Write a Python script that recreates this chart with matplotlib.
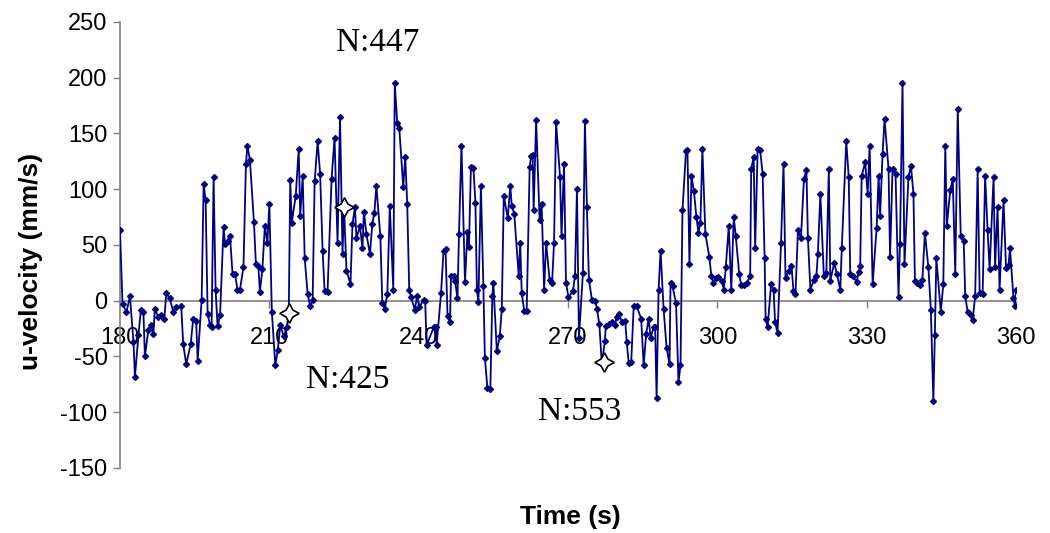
import matplotlib
matplotlib.use("Agg")
import matplotlib.pyplot as plt

plt.rcParams["axes.unicode_minus"] = False

# time (s) and u-velocity (mm/s)
time_s = [
    180.0, 180.5, 181.3, 182.0, 182.7, 183.0, 183.7, 184.2, 184.7, 185.0,
    185.7, 186.2, 186.7, 187.0, 187.7, 188.3, 188.9, 189.3, 190.0, 190.7,
    191.3, 192.3, 192.7, 193.3, 194.2, 194.7,
    195.3, 195.6, 196.4, 196.8, 197.2, 197.6, 198.1, 198.4, 198.8, 199.2,
    199.6, 200.1, 200.8, 201.1, 201.6, 202.1, 202.6, 203.1, 203.6, 204.1,
    204.8, 205.3, 205.6, 206.1, 206.9, 207.3, 207.8, 208.1, 208.6, 209.1,
    209.6, 210.0,
    210.5, 211.2, 211.7, 212.2, 212.9, 213.5, 213.9, 214.2, 214.5, 215.3,
    215.9, 216.2, 216.7, 217.1, 217.7, 218.2, 218.7, 219.1, 219.7, 220.2,
    220.7, 221.1, 221.7, 222.5, 223.1, 223.7, 224.2, 224.7, 225.0,
    225.5, 226.3, 226.7, 227.2, 227.5, 228.2, 228.7, 229.0, 229.5, 230.2,
    230.7, 231.1, 231.5, 232.3, 232.7, 233.2, 233.7, 234.2, 234.9, 235.2,
    235.7, 236.1, 236.9, 237.3, 237.7, 238.1, 238.5, 239.2, 239.7,
    240.1, 241.0, 241.3, 241.6, 243.0, 243.4, 243.6, 244.5, 245.0, 245.4,
    245.8, 246.3, 246.5, 247.0, 247.3, 247.8, 248.1, 248.6, 249.3, 249.8,
    250.1, 250.5, 251.0, 251.4, 251.7, 252.0, 252.5, 253.0, 253.3, 253.8,
    254.4, 254.8, 255.0,
    255.7, 256.3, 256.7, 257.1, 257.9, 258.4, 258.7, 259.2, 260.1, 260.4,
    260.7, 261.2, 261.7, 262.3, 262.6, 262.9, 263.1, 263.6, 264.3, 264.7,
    265.2, 265.6, 266.3, 266.8, 267.2, 267.6, 268.4, 268.7, 269.2, 269.6,
    270.1,
    271.0, 271.4, 271.8, 272.2, 273.0, 273.4, 273.8, 274.2, 274.8, 275.5,
    275.8, 276.3, 276.8, 277.4, 277.6, 278.2, 278.8, 279.4, 279.8, 280.3,
    280.8, 281.5, 281.8, 282.2, 282.7, 283.2, 283.8, 284.7, 285.2,
    285.7, 286.2, 286.6, 287.2, 287.5, 287.8, 288.2, 288.6, 289.2, 289.8,
    290.4, 290.6, 291.0, 291.7, 292.2, 292.6, 293.0, 293.7, 294.0, 294.4,
    294.8, 295.3, 295.8, 296.2, 296.6, 297.0, 297.6, 298.4, 298.8, 299.2,
    299.7, 300.2,
    300.9, 301.3, 301.7, 302.3, 302.8, 303.3, 303.7, 304.4, 304.8, 305.3,
    305.9, 306.6, 306.8, 307.3, 307.6, 308.1, 308.6, 309.1, 309.5, 309.7,
    310.1, 310.8, 311.3, 311.6, 312.1, 312.8, 313.3, 313.7, 314.3, 314.9,
    315.3,
    315.7, 316.2, 316.8, 317.4, 317.9, 318.2, 318.7, 319.4, 319.9, 320.2,
    320.7, 321.4, 321.9, 322.4, 322.7, 323.5, 324.0, 324.7, 325.0, 325.9,
    326.4, 326.7, 327.2, 328.0, 328.4, 328.7, 329.0, 329.7, 330.2, 330.6,
    331.2, 332.0, 332.4, 332.7, 333.2, 333.6, 334.4, 334.7, 335.2, 335.8,
    336.4, 336.7, 337.2, 337.6, 338.4, 338.9, 339.4, 339.7, 340.2, 340.7,
    341.2, 341.7, 342.4, 342.9, 343.4, 343.7, 344.0, 344.9, 345.4,
    345.8, 346.1, 346.8, 347.3, 347.8, 348.3, 348.9, 349.5, 349.8, 350.3,
    350.9, 351.3, 351.8, 352.3, 352.7, 353.3, 353.8, 354.3, 354.7, 355.5,
    355.8, 356.3, 356.7, 357.5, 358.0, 358.5, 358.8, 359.5, 359.8, 360.0,
]
u_vel = [
    63, -3, -10, 4, -37, -68, -31, -8, -10, -50,
    -26, -22, -30, -7, -15, -13, -16, 7, 2, -10,
    -6, -5, -39, -57, -39, -16,
    -18, -54, 1, 105, 90, -12, -22, -24, 111, 10,
    -23, -13, 66, 51, 54, 58, 24, 24, 10, 10,
    30, 123, 139, 126, 71, 33, 31, 8, 28, 67,
    52, 87,
    -10, -58, -44, -22, -32, -24, -11, 108, 70, 94,
    136, 76, 112, 38, 6, -5, 1, 107, 143, 114,
    45, 9, 8, 109, 146, 52, 165, 42, 84,
    27, 15, 69, 84, 56, 67, 47, 80, 60, 42,
    69, 79, 103, 58, -2, -7, 6, 85, 10, 195,
    159, 155, 102, 129, 87, 10, 3, -8, 4,
    -6, 1, 0, -40, -24, -24, -40, 7, 45, 46,
    -14, -19, 22, 22, 18, 2, 60, 139, 17, 62,
    48, 120, 119, 88, 10, -1, 103, 13, -51, -78,
    -79, 4, 16,
    -45, -32, -7, 94, 74, 103, 85, 78, 22, 52,
    7, -9, -9, 120, 130, 131, 81, 162, 72, 87,
    10, 52, 19, 16, 52, 160, 111, 58, 123, 16,
    3,
    9, 22, 100, -33, 25, 161, 84, 19, 1, 0,
    -7, -21, -57, -36, -23, -21, -19, -22, -15, -12,
    -19, -18, -37, -56, -55, -5, -5, -16, -58,
    -30, -16, -33, -24, -24, -87, 10, 45, -7, -42,
    -57, 16, 13, -2, -73, -58, 81, 134, 135, 33,
    112, 98, 75, 61, 70, 136, 60, 39, 22, 16,
    20, 21,
    18, 10, 30, 67, 10, 75, 58, 24, 14, 14,
    16, 22, 118, 129, 47, 136, 135, 114, 38, -16,
    -24, 15, 10, -19, -29, 52, 123, 20, 27, 31,
    9,
    6, 63, 56, 109, 117, 56, 10, 19, 22, 42,
    96, 22, 25, 118, 18, 34, 24, 10, 47, 143,
    111, 24, 22, 17, 26, 31, 112, 124, 96, 139,
    15, 65, 112, 76, 132, 163, 118, 39, 118, 114,
    3, 51, 195, 33, 111, 121, 96, 18, 16, 14,
    19, 61, 30, -8, -90, -31, 38, -10, 15,
    139, 67, 99, 109, 24, 172, 58, 54, 4, -10,
    -13, -17, 4, 118, 7, 6, 112, 63, 28, 111,
    30, 84, 10, 90, 29, 32, 47, 2, -5, 10,
]
assert len(time_s) == len(u_vel)

# marked samples
mark_labels = ["N:425", "N:447", "N:553"]
mark_t = [213.9, 225.0, 277.3]
mark_u = [-11, 84, -55]

x_ticks = [180, 210, 240, 270, 300, 330, 360]
y_ticks = [-150, -100, -50, 0, 50, 100, 150, 200, 250]

fig = plt.figure(figsize=(10.5, 5.33), dpi=100)
ax = fig.add_axes([0.1143, 0.122, 0.8533, 0.8368])

ax.plot(time_s, u_vel, color="#000080", lw=1.3, marker="D", ms=3,
        mfc="#000080", mec="#000080", zorder=3)
ax.plot(mark_t, mark_u, ls="none", marker=(4, 1, 0), ms=14,
        mfc="white", mec="black", mew=1.2, zorder=4)

# label positions (data units) near each star
text_pos = [(225.8, -71), (231.8, 231), (272.4, -100)]
for lab, (tx, ty) in zip(mark_labels, text_pos):
    ax.text(tx, ty, lab, ha="center", va="center", fontsize=24,
            family="Liberation Serif")

ax.set_xlim(180, 360)
ax.set_ylim(-150, 250)
ax.set_xticks(x_ticks)
ax.set_yticks(y_ticks)

ax.spines["top"].set_visible(False)
ax.spines["right"].set_visible(False)
ax.spines["bottom"].set_position(("data", 0))
for s in ("left", "bottom"):
    ax.spines[s].set_color("#808080")
    ax.spines[s].set_linewidth(1.2)

ax.tick_params(axis="x", direction="out", length=5, width=1, color="#808080",
               pad=14, labelsize=17)
ax.tick_params(axis="y", direction="out", length=5, width=1, color="#808080",
               pad=4, labelsize=17)
for lab in ax.get_xticklabels() + ax.get_yticklabels():
    lab.set_family("Liberation Sans")

fig.text(0.543, 0.03, "Time (s)", ha="center", va="center", fontsize=19,
         fontweight="bold", family="Liberation Sans")
fig.text(0.03, 0.51, "u-velocity (mm/s)", ha="center", va="center",
         rotation=90, fontsize=19, fontweight="bold", family="Liberation Sans")

fig.savefig("out.png", dpi=100)
